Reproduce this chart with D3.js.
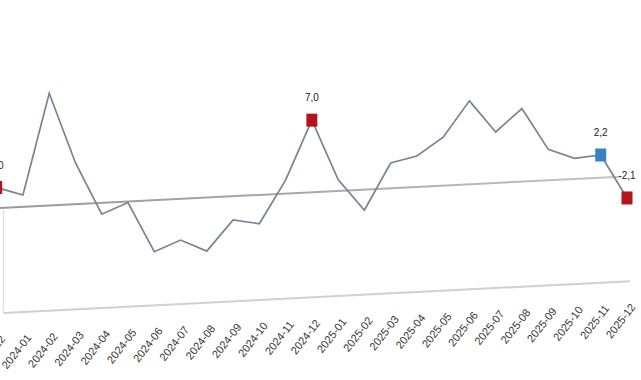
<!DOCTYPE html>
<html><head><meta charset="utf-8">
<script src="https://cdn.jsdelivr.net/npm/d3@7/dist/d3.min.js"></script>
<style>html,body{margin:0;padding:0;background:#fff;overflow:hidden}</style>
</head><body>
<svg id="chart" width="641" height="380"></svg>
<script>
const categories = ["2023-12","2024-01","2024-02","2024-03","2024-04","2024-05","2024-06","2024-07","2024-08","2024-09","2024-10","2024-11","2024-12","2025-01","2025-02","2025-03","2025-04","2025-05","2025-06","2025-07","2025-08","2025-09","2025-10","2025-11","2025-12"];
const values = [2.0,1.15,10.9,4.0,-1.1,-0.1,-5.0,-4.0,-5.2,-2.3,-2.8,1.3,7.0,1.1,-2.0,2.45,3.0,4.7,8.1,4.95,7.1,3.0,2.0,2.2,-2.1];
const labels = ["2,0","","","","","","","","","","","","7,0","","","","","","","","","","","2,2","-2,1"];
const markerColors = {0:"#b3151c",12:"#b3151c",23:"#3b7fc4",24:"#b3151c"};
const yAxisMin = -10.2, yAxisMax = 12;

const svg = d3.select("#chart");
const x = d3.scalePoint().domain(categories).range([-3.3, 627]);
const y = d3.scaleLinear().domain([0, 10]).range([208, 105]);
const skew = 0.0505;
const px = c => x(c);
const py = (c, v) => y(v) - skew * x(c);

const xr = 630;
// left wall line
svg.append("line").attr("x1",3.5).attr("x2",3.5).attr("y1",210).attr("y2",y(yAxisMin)-skew*3.5)
  .attr("stroke","#e2e2e2").attr("stroke-width",1.5);
// bottom axis line
svg.append("line").attr("x1",3.5).attr("y1",y(yAxisMin)-skew*3.5).attr("x2",xr).attr("y2",y(yAxisMin)-skew*xr)
  .attr("stroke","#d0d0d0").attr("stroke-width",2);
// zero line
const defs = svg.append("defs");
const g = defs.append("linearGradient").attr("id","zg").attr("x1","0").attr("x2","1");
g.append("stop").attr("offset","0").attr("stop-color","#9a9a9a");
g.append("stop").attr("offset","0.5").attr("stop-color","#a8a8a8");
g.append("stop").attr("offset","1").attr("stop-color","#c4c4c4");
svg.append("line").attr("x1",0).attr("y1",y(0)).attr("x2",620).attr("y2",y(0)-skew*620)
  .attr("stroke","url(#zg)").attr("stroke-width",2);

// series line
const line = d3.line().x((d,i)=>px(categories[i])).y((d,i)=>py(categories[i], d));
svg.append("path").datum(values).attr("d", line).attr("fill","none")
  .attr("stroke","#768594").attr("stroke-width",1.7).attr("stroke-linejoin","miter");

// markers
const mIdx = Object.keys(markerColors).map(Number);
svg.selectAll("rect.m").data(mIdx).join("rect").attr("class","m")
  .attr("x", i => px(categories[i]) - 5.5).attr("y", i => py(categories[i], values[i]) - 6.5)
  .attr("width",11).attr("height",13).attr("fill", i => markerColors[i]);

// data labels
svg.selectAll("text.dl").data(labels.map((l,i)=>({l,i})).filter(d=>d.l)).join("text").attr("class","dl")
  .attr("x", d => px(categories[d.i]))
  .attr("y", d => py(categories[d.i], values[d.i]) - 19)
  .attr("text-anchor","middle").attr("font-family","Liberation Sans, Arial, sans-serif")
  .attr("font-size",10).attr("fill","#222").text(d => d.l);

// x tick labels
svg.selectAll("text.xt").data(categories).join("text").attr("class","xt")
  .attr("transform", c => {
    const tx = px(c) + 9, ty = y(yAxisMin) - skew * px(c) + 26;
    return `translate(${tx},${ty}) rotate(-52)`;
  })
  .attr("text-anchor","end").attr("font-family","Liberation Sans, Arial, sans-serif")
  .attr("font-size",11).attr("fill","#333").text(c => c);
</script>
</body></html>
